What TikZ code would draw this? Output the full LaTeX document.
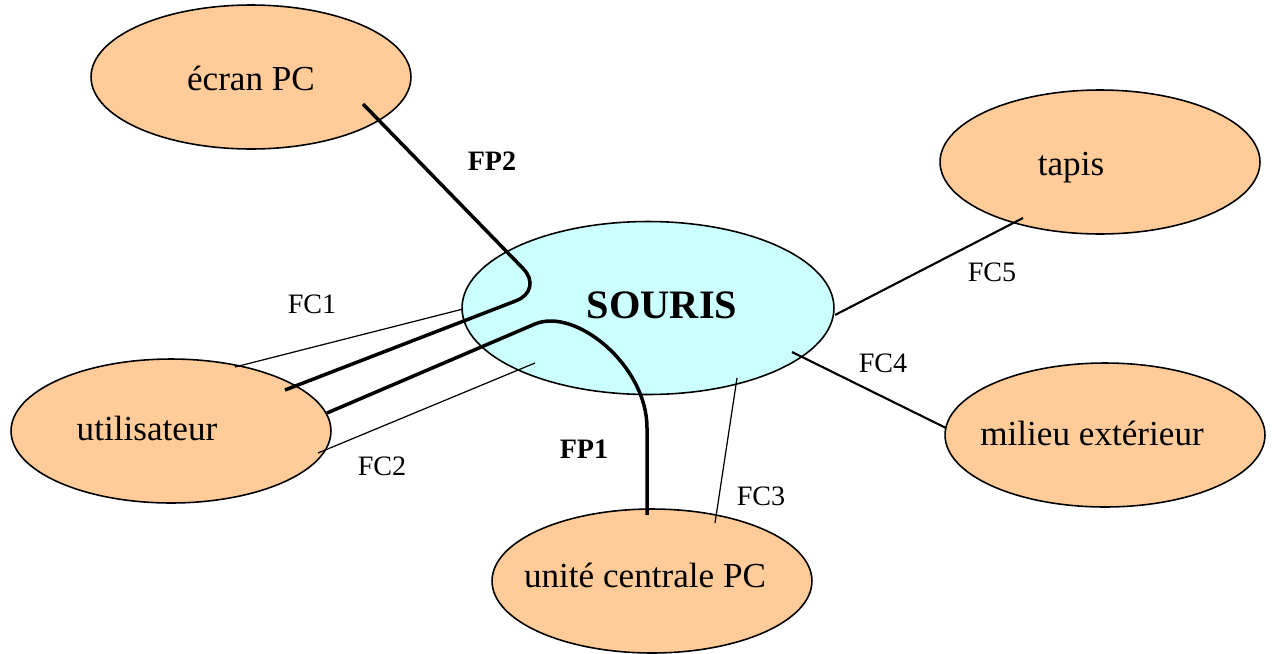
\documentclass[tikz,border=0pt]{standalone}
\usepackage{fontspec}
\setmainfont{Liberation Serif}
\usetikzlibrary{shapes.geometric}
\definecolor{peche}{HTML}{FFCC99}
\definecolor{ciel}{HTML}{CCFFFF}

\begin{document}
\begin{tikzpicture}[x=0.02cm, y=-0.02cm,
  bulle/.style={ellipse, draw=black, line width=0.9pt, fill=peche,
    minimum width=6.4cm, minimum height=2.88cm, inner sep=0pt},
  nom/.style={anchor=base, font=\fontsize{20}{24}\selectfont},
  fc/.style={anchor=base, font=\fontsize{16}{19}\selectfont},
  fp/.style={anchor=base, font=\fontsize{16}{19}\selectfont\bfseries},
  fin/.style={line width=0.7pt},
  moyen/.style={line width=1.2pt},
  fort/.style={line width=2pt}]

  \useasboundingbox (0,0) rectangle (1274,653);

  % souris
  \node[bulle, fill=ciel, minimum width=7.44cm, minimum height=3.46cm] (souris) at (648,308) {};

  % milieux exterieurs
  \node[bulle] (ecran) at (251,77) {};
  \node[bulle] (tapis) at (1100,162) {};
  \node[bulle] (milieu) at (1105,435) {};
  \node[bulle] (util) at (171,431) {};
  \node[bulle] (ucpc) at (652,581) {};

  % fonctions contraintes
  \draw[fin] ([shift={(64,-64)}]util.center) -- ([shift={(-185,1)}]souris.center);
  \draw[fin] ([shift={(147,22)}]util.center) -- ([shift={(-113,55)}]souris.center);
  \draw[fin] ([shift={(63,-58)}]ucpc.center) -- ([shift={(89,70)}]souris.center);
  \draw[moyen] ([shift={(144,44)}]souris.center) -- ([shift={(-159,-7)}]milieu.center);
  \draw[moyen] ([shift={(187,7)}]souris.center) -- ([shift={(-77,56)}]tapis.center);

  % fonctions principales
  \draw[fort, rounded corners=0.6cm] ([shift={(112,27)}]ecran.center)
    -- ([shift={(-104,-18)}]souris.center) -- ([shift={(114,-41)}]util.center);
  \draw[fort] ([shift={(156,-18)}]util.center) -- ([shift={(-113,16)}]souris.center)
    .. controls +(40,-17) and +(0,-63) .. ([shift={(-1,120)}]souris.center)
    -- ([shift={(-5,-66)}]ucpc.center);

  % textes
  \node[anchor=base, font=\fontsize{23}{27}\selectfont\bfseries] (souris-t) at (662,318) {SOURIS};
  \node[nom] (ecran-t) at (251,90) {écran PC};
  \node[nom] (tapis-t) at (1071,175) {tapis};
  \node[nom] (milieu-t) at (1092,445) {milieu extérieur};
  \node[nom] (util-t) at (147,440) {utilisateur};
  \node[nom] (ucpc-t) at (645,587) {unité centrale PC};

  \node[fp] (fp1) at (584,458) {FP1};
  \node[fp] (fp2) at (492,170) {FP2};
  \node[fc] (fc1) at (312,313) {FC1};
  \node[fc] (fc2) at (382,475) {FC2};
  \node[fc] (fc3) at (761,505) {FC3};
  \node[fc] (fc4) at (883,372) {FC4};
  \node[fc] (fc5) at (992,281) {FC5};

\end{tikzpicture}
\end{document}
